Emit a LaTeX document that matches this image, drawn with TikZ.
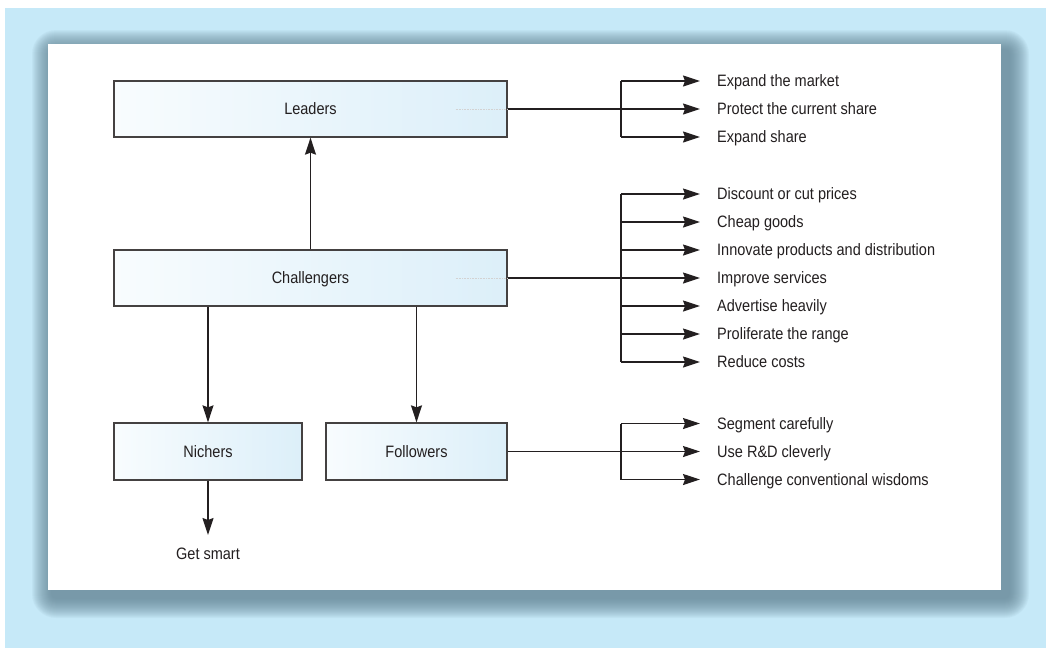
\documentclass[tikz,border=0pt]{standalone}
\usepackage{fontspec}
\setmainfont[FakeStretch=0.88]{Liberation Sans}
\usetikzlibrary{arrows.meta, positioning, calc}
\definecolor{pback}{HTML}{C6E9F8}
\definecolor{pshadow}{HTML}{5E7F8F}
\definecolor{pline}{HTML}{231F20}
\definecolor{pboxl}{HTML}{F8FCFE}
\definecolor{pboxr}{HTML}{DCEFF9}
\tikzset{
  stratbox/.style={draw=pline!85, line width=1.3pt, left color=pboxl, right color=pboxr,
                   font=\fontsize{16.5}{18}\selectfont, text=pline, inner sep=0pt,
                   text height=11.5pt, text depth=0pt},
  tactic/.style={anchor=west, inner sep=0pt, font=\fontsize{16.5}{18}\selectfont, text=pline,
                 text height=11.5pt, text depth=0pt},
  ln/.style={draw=pline, line width=1.3pt},
  arr/.style={ln, -{Stealth[length=17pt, width=11pt, inset=2pt]}},
  ghost/.style={pline!20, densely dotted, line width=0.6pt},
}

\begin{document}
\begin{tikzpicture}[x=1pt, y=-1pt]
  \useasboundingbox (0,0) rectangle (1046,648);
  \fill[pback] (5,8) rectangle (1046,648);
  \foreach \g in {1,...,20}{
    \fill[pshadow, opacity=0.06, rounded corners={(4+\g)*1pt}] ({52-\g},{50-\g}) rectangle ({1009+\g},{598+\g});
  }
  \fill[white] (48,44) rectangle (1001,590);

  \node[stratbox, minimum width=393pt, minimum height=56pt] (leaders) at (310.5,109) {Leaders};
  \node[stratbox, minimum width=393pt, minimum height=56pt] (challengers) at (310.5,278) {Challengers};
  \node[stratbox, minimum width=188pt, minimum height=57pt] (nichers) at (208,451.5) {Nichers};
  \node[stratbox, minimum width=181pt, minimum height=57pt] (followers) at (416.5,451.5) {Followers};
  \node[tactic, anchor=north] (getsmart) at (208,548) {Get smart};
  \draw[ghost] ([xshift=-52pt]leaders.east) -- (leaders.east);
  \draw[ghost] ([xshift=-52pt]challengers.east) -- (challengers.east);

  \draw[arr] (challengers.north) -- (leaders.south);
  \draw[arr] (challengers.south -| nichers.north) -- (nichers.north);
  \draw[arr] (challengers.south -| followers.north) -- (followers.north);
  \draw[arr, shorten >=13pt] (nichers.south) -- (getsmart.north);

  \coordinate (bus) at (621,0);

  \foreach \t [count=\i] in {Expand the market, Protect the current share, Expand share}
    \node[tactic] (l\i) at (717,{81+28*(\i-1)}) {\t};
  \draw[ln] (leaders.east) -- (bus |- leaders.east);
  \draw[ln] (bus |- l1.west) -- (bus |- l3.west);
  \foreach \i in {1,2,3}
    \draw[arr, shorten >=17pt] (bus |- l\i.west) -- (l\i.west);

  \foreach \t [count=\i] in {Discount or cut prices, Cheap goods, Innovate products and distribution,
      Improve services, Advertise heavily, Proliferate the range, Reduce costs}
    \node[tactic] (c\i) at (717,{194+28*(\i-1)}) {\t};
  \draw[ln] (challengers.east) -- (bus |- challengers.east);
  \draw[ln] (bus |- c1.west) -- (bus |- c7.west);
  \foreach \i in {1,...,7}
    \draw[arr, shorten >=17pt] (bus |- c\i.west) -- (c\i.west);

  \foreach \t [count=\i] in {Segment carefully, Use R\&D cleverly, Challenge conventional wisdoms}
    \node[tactic] (f\i) at (717,{423.5+28*(\i-1)}) {\t};
  \draw[ln] (followers.east) -- (bus |- followers.east);
  \draw[ln] (bus |- f1.west) -- (bus |- f3.west);
  \foreach \i in {1,2,3}
    \draw[arr, shorten >=17pt] (bus |- f\i.west) -- (f\i.west);
\end{tikzpicture}
\end{document}
